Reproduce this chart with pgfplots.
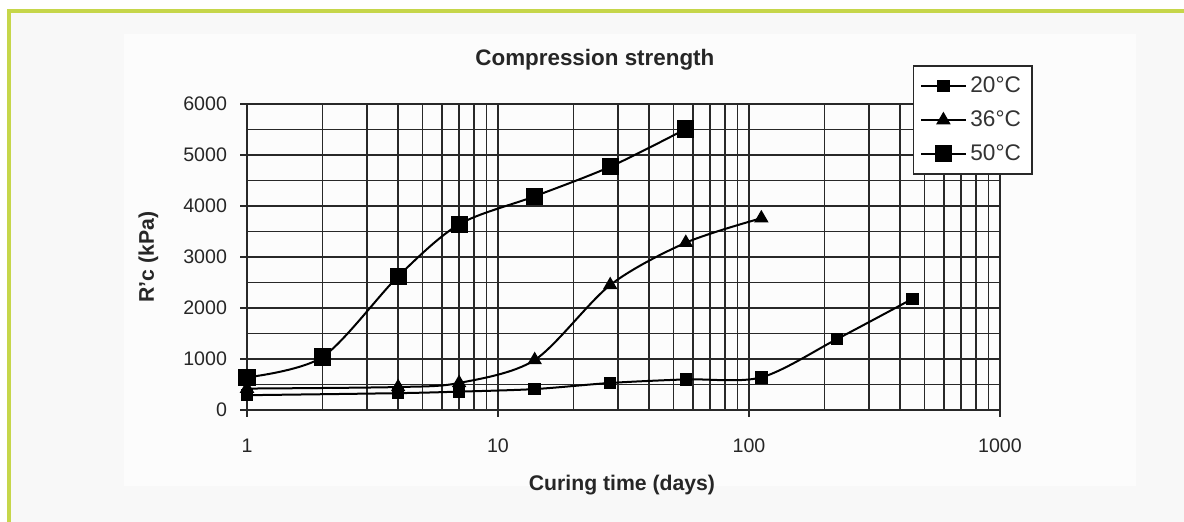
\documentclass[border=0pt]{standalone}
\usepackage{fontspec}
\setmainfont{Liberation Sans}
\usepackage{pgfplots}
\pgfplotsset{compat=1.18}
\definecolor{frameg}{RGB}{198,214,74}
\definecolor{bg}{RGB}{248,248,248}
\definecolor{innerbg}{RGB}{252,252,252}
\definecolor{gridc}{RGB}{40,40,40}
\begin{document}
\begin{tikzpicture}[x=1pt,y=1pt]
\path[use as bounding box] (0,0) rectangle (592,261);
\fill[bg] (4,0) rectangle (592,255.5);
\fill[innerbg] (62,18) rectangle (568,244);
\draw[frameg, line width=1.6pt] (4.5,0) -- (4.5,255.5) -- (592,255.5);
\begin{axis}[
  at={(123.5pt,56pt)}, anchor=south west,
  width=376.5pt, height=153pt, scale only axis,
  xmode=log, log basis x=10,
  xmin=1, xmax=1000, ymin=0, ymax=6000,
  xtick={1,10,100,1000}, xticklabels={1,10,100,1000},
  minor xtick={2,3,4,5,6,7,8,9,20,30,40,50,60,70,80,90,200,300,400,500,600,700,800,900},
  ytick={0,1000,2000,3000,4000,5000,6000},
  minor ytick={500,1500,2500,3500,4500,5500},
  grid=both,
  major grid style={draw=gridc, line width=0.9pt},
  minor grid style={draw=gridc, line width=0.9pt},
  axis line style={draw=gridc, line width=0.9pt},
  tick align=outside, major tick length=3.5pt, minor tick length=0pt,
  tick style={draw=gridc, line width=0.9pt},
  xtick pos=bottom, ytick pos=left,
  /pgf/number format/1000 sep={},
  /pgf/number format/assume math mode=true,
  ticklabel style={font=\fontsize{9.8}{11}\selectfont, text=black!85},
  xticklabel style={anchor=north, yshift=-7.5pt},
  yticklabel style={anchor=east, xshift=-3pt},
  every axis title shift=0pt,
  title={\textbf{Compression strength}},
  title style={at={(0.462,1.144)}, anchor=center, font=\fontsize{11.2}{13}\selectfont, text=black!85},
  xlabel={\textbf{Curing time (days)}},
  xlabel style={at={(0.498,-0.245)}, anchor=center, font=\fontsize{10.6}{12}\selectfont, text=black!85},
  ylabel={\textbf{R'c (kPa)}},
  ylabel style={at={(-0.131,0.5)}, anchor=center, font=\fontsize{10.6}{12}\selectfont, text=black!85},
  legend style={at={(0.884,1.127)}, anchor=north west, draw=gridc, line width=0.75pt, fill=white,
    font=\fontsize{11.3}{13}\selectfont, row sep=3.5pt, inner xsep=3.5pt, inner ysep=3.5pt, text=black!80},
  legend cell align=left,
  legend image code/.code={\draw[mark repeat=2,mark phase=2,#1] plot coordinates {(0pt,0pt) (11pt,0pt) (22pt,0pt)};},
]
\addplot[black, line width=1pt, smooth, tension=0.5, mark=square*, mark size=2.6pt, mark options={solid}]
  coordinates {(1,290) (4,330) (7,360) (14,410) (28,530) (56,600) (112,640) (224,1390) (448,2180)};
\addlegendentry{20°C}
\addplot[black, line width=1pt, smooth, tension=0.5, mark=triangle*, mark size=3.2pt, mark options={solid}]
  coordinates {(1,420) (4,450) (7,530) (14,980) (28,2450) (56,3280) (112,3760)};
\addlegendentry{36°C}
\addplot[black, line width=1pt, smooth, tension=0.5, mark=square*, mark size=3.8pt, mark options={solid}]
  coordinates {(1,640) (2,1040) (4,2620) (7,3640) (14,4190) (28,4770) (56,5510)};
\addlegendentry{50°C}
\end{axis}
\end{tikzpicture}
\end{document}
